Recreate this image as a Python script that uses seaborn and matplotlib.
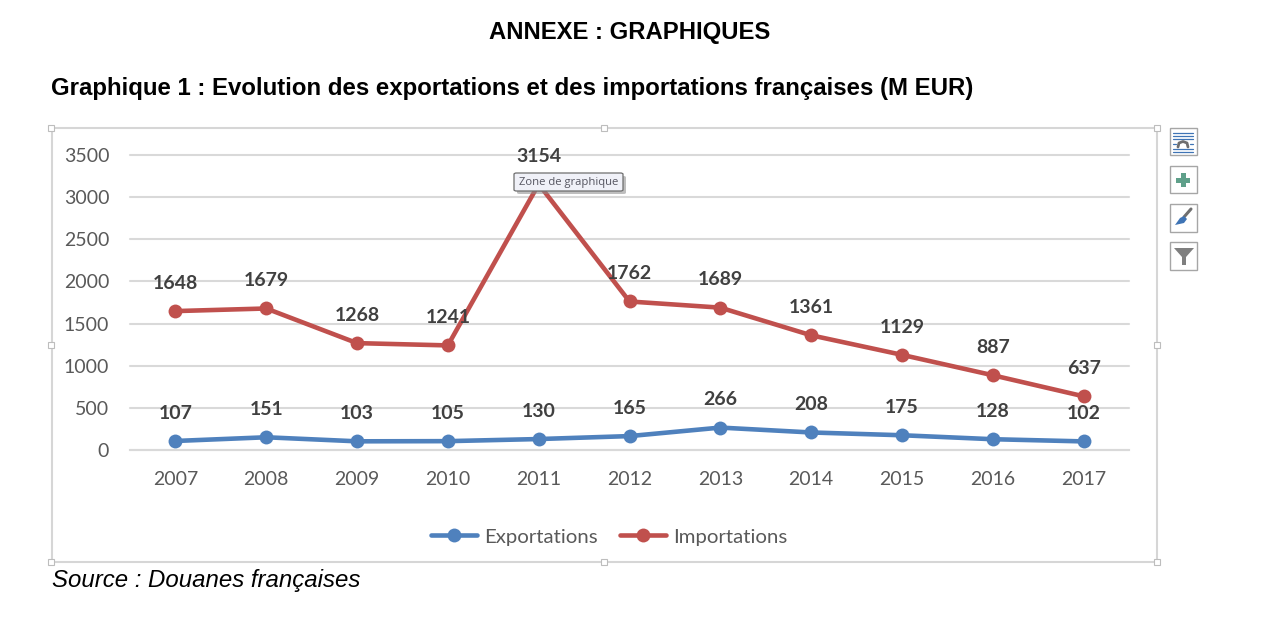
import pandas as pd
import matplotlib.pyplot as plt
import seaborn as sns
from matplotlib.patches import Rectangle, FancyBboxPatch, Polygon
from matplotlib.lines import Line2D

# --- Data ---
years = ['2007', '2008', '2009', '2010', '2011', '2012', '2013', '2014', '2015', '2016', '2017']
exportations = [107, 151, 103, 105, 130, 165, 266, 208, 175, 128, 102]
importations = [1648, 1679, 1268, 1241, 3154, 1762, 1689, 1361, 1129, 887, 637]
y_ticks = [0, 500, 1000, 1500, 2000, 2500, 3000, 3500]

df = pd.DataFrame({'Année': years * 2,
                   'Valeur': exportations + importations,
                   'Série': ['Exportations'] * len(years) + ['Importations'] * len(years)})

W, H = 1261, 619
sns.set_theme(style='white')
plt.rcParams['font.family'] = ['Lato', 'DejaVu Sans']
fig = plt.figure(figsize=(W / 100, H / 100), dpi=100, facecolor='white')


# pixel coordinates (top-left origin) to figure fractions
def fx(x):
    return x / W


def fy(y):
    return 1 - y / H


ax = fig.add_axes([fx(130), fy(450), 999 / W, 295 / H])
ax.set_facecolor('none')

# --- Main chart ---
sns.lineplot(data=df, x='Année', y='Valeur', hue='Série', ax=ax,
             palette={'Exportations': '#4F81BD', 'Importations': '#C0504D'},
             style='Série', markers={'Exportations': 'o', 'Importations': 'o'},
             dashes=False, linewidth=3.3, markersize=10, markeredgewidth=0,
             sort=False, errorbar=None, clip_on=False, zorder=3)

ax.set_xlim(-0.5, 10.5)
ax.set_ylim(0, 3500)
ax.set_yticks(y_ticks)
ax.yaxis.grid(True, color='#D9D9D9', linewidth=1.5)
for gl in ax.get_ygridlines():
    gl.set_clip_on(False)
ax.xaxis.grid(False)
ax.set_axisbelow(True)
ax.set_xlabel('')
ax.set_ylabel('')
for side in ['top', 'right', 'left']:
    ax.spines[side].set_visible(False)
ax.spines['bottom'].set_color('#D9D9D9')
ax.spines['bottom'].set_linewidth(1.5)
ax.tick_params(axis='both', length=0, labelsize=14, labelcolor='#595959')
ax.tick_params(axis='x', pad=15)
ax.tick_params(axis='y', pad=15)

# Data labels
for vals in [exportations, importations]:
    for i, v in enumerate(vals):
        ax.annotate(str(v), (i, v), xytext=(0, 20), textcoords='offset points',
                    ha='center', va='center', fontsize=14, fontweight='bold',
                    color='#404040', zorder=5)

# Legend
handles, labels = ax.get_legend_handles_labels()
ax.legend(handles, labels, loc='center', bbox_to_anchor=(609 / W, fy(537)),
          bbox_transform=fig.transFigure, ncol=2, frameon=False, fontsize=14.7,
          labelcolor='#595959', handlelength=2.25, handletextpad=0.35, columnspacing=1.1,
          borderpad=0)

# --- Titles outside the chart ---
fig.text(fx(630), fy(33), 'ANNEXE : GRAPHIQUES', ha='center', va='center',
         family='Liberation Sans', fontweight='bold', fontsize=17.2, color='black')
fig.text(fx(51), fy(89), 'Graphique 1 : Evolution des exportations et des importations françaises (M EUR)',
         ha='left', va='center', family='Liberation Sans', fontweight='bold', fontsize=17.25, color='black')
fig.text(fx(52), fy(581), 'Source : Douanes françaises', ha='left', va='center',
         family='Liberation Sans', style='italic', fontsize=17.25, color='black')


def px_rect(x, y, w, h, **kw):
    r = Rectangle((fx(x), fy(y + h)), w / W, h / H, transform=fig.transFigure, **kw)
    fig.add_artist(r)
    return r


def px_line(xs, ys, **kw):
    fig.add_artist(Line2D([fx(x) for x in xs], [fy(y) for y in ys], transform=fig.transFigure, **kw))


# --- Selected chart frame and handles ---
px_rect(51.5, 127.5, 1105, 434, fill=False, ec='#D6D6D6', lw=1.5, zorder=1)
for hx in [51, 604, 1157]:
    for hy in [128, 345, 562]:
        if hx == 604 and hy == 345:
            continue
        px_rect(hx - 3, hy - 3, 6, 6, fc='white', ec='#BDBDBD', lw=0.8, zorder=2)

# --- Tooltip ---
fig.add_artist(FancyBboxPatch((fx(517), fy(194)), 109 / W, 18 / H, boxstyle='round,pad=0,rounding_size=0.002',
                              transform=fig.transFigure, fc='#8A8A8A', ec='none', alpha=0.55, zorder=8))
fig.add_artist(FancyBboxPatch((fx(514), fy(191)), 109 / W, 18 / H, boxstyle='round,pad=0,rounding_size=0.002',
                              transform=fig.transFigure, fc='#F0F1F8', ec='#6E6E6E', lw=0.9, zorder=9))
fig.text(fx(569), fy(182), 'Zone de graphique', ha='center', va='center',
         family='Open Sans', fontsize=8.1, color='#555560', zorder=10)

# --- Side buttons ---
for by in [128, 166, 204, 242]:
    px_rect(1169.5, by + 0.5, 27, 27, fc='white', ec='#A6A6A6', lw=1, zorder=2)

# layout icon
for ly in [133, 136, 139, 149, 152]:
    px_line([1173, 1193], [ly, ly], color='#3F74B5', lw=0.9, zorder=3)
for sx in [(1173, 1176), (1190, 1193)]:
    px_line(sx, [144, 144], color='#3F74B5', lw=0.9, zorder=3)
px_line([1178, 1179, 1183, 1187, 1188], [147, 143, 141.5, 143, 147], color='#6E6E6E', lw=2, zorder=4)

# plus icon
px_rect(1181, 173, 5, 14, fc='#5FA08A', ec='none', zorder=3)
px_rect(1176, 178, 14, 5, fc='#5FA08A', ec='none', zorder=3)

# brush icon
px_line([1184, 1191], [217, 209], color='#707070', lw=2.2, zorder=3)
fig.add_artist(Polygon([(fx(1175), fy(225)), (fx(1180), fy(218)), (fx(1184), fy(216)),
                        (fx(1187), fy(219)), (fx(1184), fy(223))],
                       transform=fig.transFigure, fc='#3F74B5', ec='none', zorder=4))

# filter icon
fig.add_artist(Polygon([(fx(1174), fy(248)), (fx(1194), fy(248)), (fx(1186), fy(257)),
                        (fx(1186), fy(265)), (fx(1182), fy(265)), (fx(1182), fy(257))],
                       transform=fig.transFigure, fc='#7F7F7F', ec='none', zorder=3))

plt.savefig('out.png', dpi=100)
